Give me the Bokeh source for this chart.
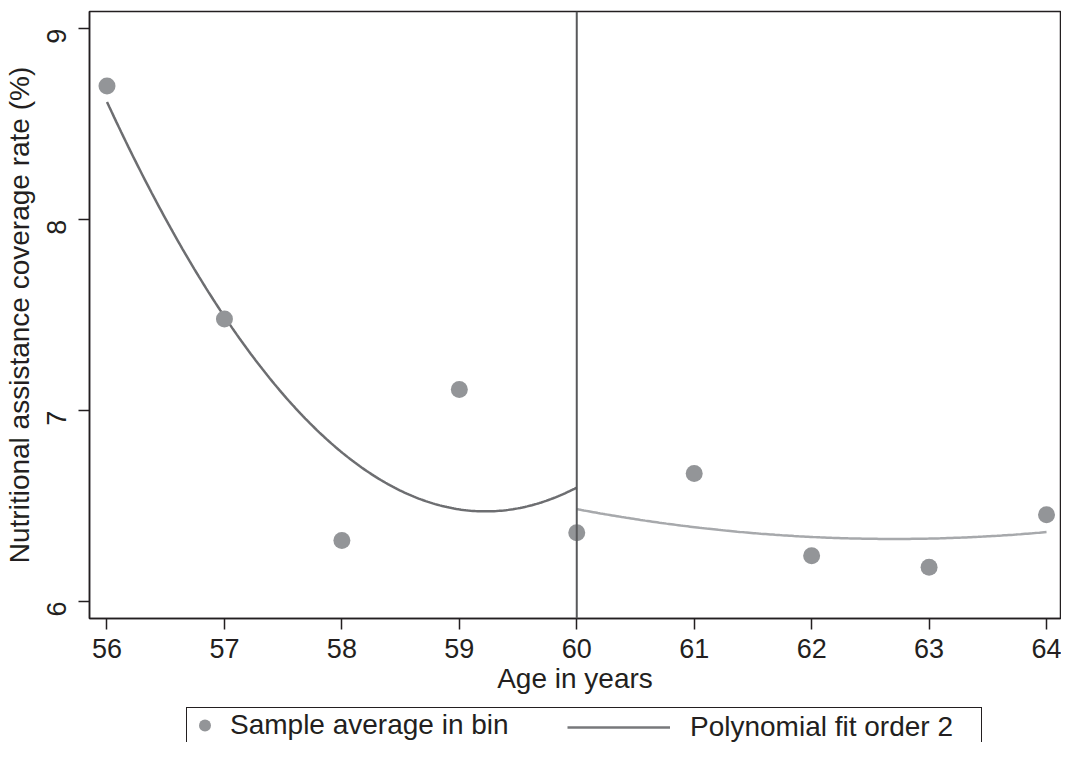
import math
import numpy as np
from bokeh.plotting import figure
from bokeh.layouts import column
from bokeh.models import Range1d, FixedTicker, Span, Legend, LegendItem
from bokeh.embed import file_html
from bokeh.resources import INLINE

# ---- data ----
ages = [56, 57, 58, 59, 60, 61, 62, 63, 64]
coverage = [8.70, 7.48, 6.32, 7.11, 6.36, 6.67, 6.24, 6.18, 6.455]
cutoff = 60
x_ticks = [56, 57, 58, 59, 60, 61, 62, 63, 64]
y_ticks = [6, 7, 8, 9]

FONT = "Liberation Sans"
INK = "#231f20"
DOT = "#939598"
FIT_L = "#6d6e71"
FIT_R = "#a7a9ac"

ages_a = np.array(ages, dtype=float)
cov_a = np.array(coverage, dtype=float)
left = ages_a <= cutoff
right = ages_a >= cutoff
coef_l = np.polyfit(ages_a[left], cov_a[left], 2)
coef_r = np.polyfit(ages_a[right], cov_a[right], 2)
grid_l = np.linspace(ages_a[left].min(), cutoff, 200)
grid_r = np.linspace(cutoff, ages_a[right].max(), 200)

p = figure(width=1061, height=703, output_backend="svg", toolbar_location=None,
           x_range=Range1d(55.851, 64.119), y_range=Range1d(5.911, 9.0906),
           min_border_left=88, min_border_right=1, min_border_top=11, min_border_bottom=85)

p.xgrid.visible = False
p.ygrid.visible = False
p.outline_line_color = INK
p.outline_line_width = 1.5
p.outline_line_alpha = 1

for ax in (p.xaxis[0], p.yaxis[0]):
    ax.axis_line_color = INK
    ax.axis_line_width = 1.5
    ax.major_tick_line_color = INK
    ax.major_tick_line_width = 1.5
    ax.major_tick_out = 11
    ax.major_tick_in = 0
    ax.minor_tick_line_color = None
    ax.major_label_text_font = FONT
    ax.major_label_text_font_size = "27px"
    ax.major_label_text_color = INK
    ax.axis_label_text_font = FONT
    ax.axis_label_text_font_size = "28px"
    ax.axis_label_text_font_style = "normal"
    ax.axis_label_text_color = INK

p.xaxis.ticker = FixedTicker(ticks=x_ticks)
p.yaxis.ticker = FixedTicker(ticks=y_ticks)
p.xaxis.axis_label = "Age in years"
p.yaxis.axis_label = "Nutritional assistance coverage rate (%)"
p.xaxis.major_label_standoff = 9
p.xaxis.axis_label_standoff = 2
p.yaxis.major_label_standoff = 22
p.yaxis.axis_label_standoff = 0
p.yaxis.major_label_orientation = math.pi / 2

p.add_layout(Span(location=cutoff, dimension="height", line_color="#58595b", line_width=2))

p.line(grid_l, np.polyval(coef_l, grid_l), line_color=FIT_L, line_width=2.5)
p.line(grid_r, np.polyval(coef_r, grid_r), line_color=FIT_R, line_width=2.5)
p.scatter(ages, coverage, size=17, fill_color=DOT, line_color=None)

# ---- legend strip (its own small canvas so it is not clipped by the plot frame) ----
lg = figure(width=1061, height=39, output_backend="svg", toolbar_location=None,
            x_range=Range1d(0, 1), y_range=Range1d(0, 1),
            min_border=0)
lg.axis.visible = False
lg.grid.visible = False
lg.outline_line_color = None
key_dot = lg.scatter(ages, coverage, size=17, fill_color=DOT, line_color=None)
key_line = lg.line(grid_l, np.polyval(coef_l, grid_l), line_color="#77787b", line_width=2.5)

leg1 = Legend(items=[LegendItem(label="Sample average in bin", renderers=[key_dot])],
              location=(97, -1), orientation="horizontal",
              padding=1, glyph_width=33, glyph_height=30, label_standoff=9, label_width=750,
              border_line_color=INK, border_line_width=1.5, border_line_alpha=1,
              background_fill_color="white", background_fill_alpha=1,
              label_text_font=FONT, label_text_font_size="28px", label_text_color=INK,
              margin=0)
leg2 = Legend(items=[LegendItem(label="Polynomial fit order 2", renderers=[key_line])],
              location=(478, -1), orientation="horizontal",
              padding=1, glyph_width=103, glyph_height=30, label_standoff=20,
              border_line_color=None, background_fill_alpha=0,
              label_text_font=FONT, label_text_font_size="28px", label_text_color=INK,
              margin=0)
lg.add_layout(leg1)
lg.add_layout(leg2)

page = column(p, lg, spacing=0)
open("out.html", "w").write(file_html(page, INLINE))
